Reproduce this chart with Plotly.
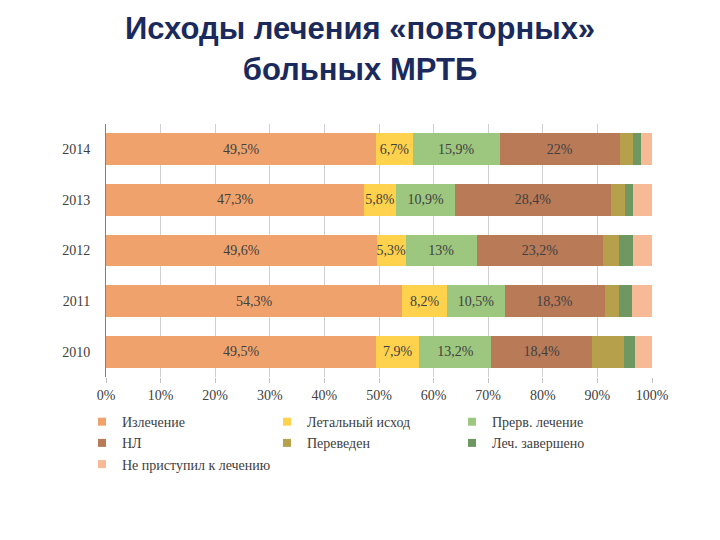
import plotly.graph_objects as go

years = ["2010", "2011", "2012", "2013", "2014"]
series_names = ["Излечение", "Летальный исход", "Прерв. лечение", "НЛ",
                "Переведен", "Леч. завершено", "Не приступил к лечению"]

izlechenie = [49.5, 54.3, 49.6, 47.3, 49.5]
letalny = [7.9, 8.2, 5.3, 5.8, 6.7]
prerv = [13.2, 10.5, 13.0, 10.9, 15.9]
nl = [18.4, 18.3, 23.2, 28.4, 22.0]
pereveden = [5.8, 2.7, 2.9, 2.7, 2.5]
lech_zav = [2.0, 2.3, 2.5, 1.5, 1.4]
ne_pristupil = [3.2, 3.7, 3.5, 3.4, 2.0]

labels_izl = ["49,5%", "54,3%", "49,6%", "47,3%", "49,5%"]
labels_let = ["7,9%", "8,2%", "5,3%", "5,8%", "6,7%"]
labels_prerv = ["13,2%", "10,5%", "13%", "10,9%", "15,9%"]
labels_nl = ["18,4%", "18,3%", "23,2%", "28,4%", "22%"]

x_ticks = [0, 10, 20, 30, 40, 50, 60, 70, 80, 90, 100]
x_ticktext = ["0%", "10%", "20%", "30%", "40%", "50%", "60%", "70%", "80%", "90%", "100%"]

colors = ["#F0A26C", "#FFD24D", "#9DC67F", "#B97A58", "#B6A04C", "#6F9762", "#F6BA96"]

values = [izlechenie, letalny, prerv, nl, pereveden, lech_zav, ne_pristupil]
texts = [labels_izl, labels_let, labels_prerv, labels_nl, None, None, None]

serif = "Liberation Serif, Times New Roman, serif"

fig = go.Figure()
for name, vals, txt, col in zip(series_names, values, texts, colors):
    fig.add_trace(go.Bar(
        y=years, x=vals, name=name, orientation="h",
        marker=dict(color=col, line=dict(width=0)),
        text=txt if txt else None,
        texttemplate="%{text}" if txt else None,
        textposition="inside" if txt else "none",
        insidetextanchor="middle",
        textangle=0,
        constraintext="none",
        textfont=dict(family=serif, size=14, color="#404040"),
        hoverinfo="skip",
        showlegend=False,
    ))

# legend entries with small square swatches
for name, col in zip(series_names, colors):
    fig.add_trace(go.Scatter(
        x=[None], y=[None], mode="markers", name=name,
        marker=dict(symbol="square", size=8, color=col),
        showlegend=True, hoverinfo="skip",
    ))

fig.update_layout(
    barmode="stack",
    bargap=0.37,
    width=720, height=540,
    paper_bgcolor="white", plot_bgcolor="white",
    margin=dict(l=98, r=76, t=116, b=171),
    title=dict(
        text="<b>Исходы лечения «повторных»<br>больных МРТБ</b>",
        x=0.4889, xanchor="center", y=0.942, yanchor="top",
        font=dict(family="Liberation Sans, Arial, sans-serif", size=31, color="#1B2A5C"),
    ),
    xaxis=dict(
        range=[0, 100], tickvals=x_ticks, ticktext=x_ticktext,
        showgrid=True, gridcolor="#D0D0D0", gridwidth=1,
        ticks="outside", ticklen=5, tickcolor="#C0C0C0",
        showline=False, zeroline=False,
        tickfont=dict(family=serif, size=14, color="#404040"),
    ),
    yaxis=dict(
        categoryorder="array", categoryarray=years,
        showline=True, linecolor="#808080", linewidth=1,
        ticks="", showgrid=False, ticklabelstandoff=12,
        tickfont=dict(family=serif, size=14, color="#404040"),
    ),
    legend=dict(
        orientation="h", x=-0.044, xanchor="left", y=-0.115, yanchor="top",
        entrywidth=140, entrywidthmode="pixels",
        font=dict(family=serif, size=14, color="#404040"),
        traceorder="normal", itemclick=False,
    ),
    showlegend=True,
)

fig.write_html("out.html")
